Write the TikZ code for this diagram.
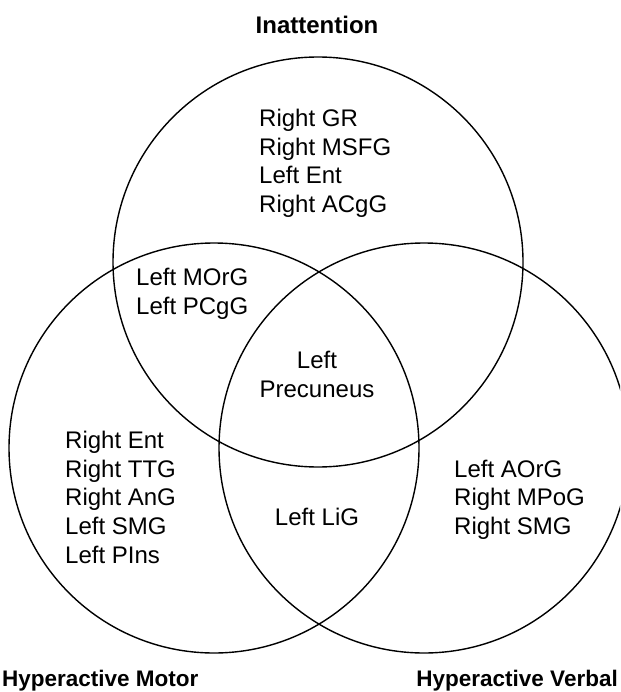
\documentclass[tikz,border=0pt]{standalone}
\usepackage{fontspec}
\setmainfont{Liberation Sans}
\begin{document}
\begin{tikzpicture}[x=1pt,y=-1pt,
  setc/.style={draw=black,line width=1.4pt,circle,minimum size=410pt,inner sep=0pt},
  lbl/.style={inner sep=0pt,font=\fontsize{24}{28}\selectfont},
  ttl/.style={inner sep=0pt,font=\fontsize{24}{28}\selectfont\bfseries},
  ttlb/.style={inner sep=0pt,font=\fontsize{22.5}{27}\selectfont\bfseries}]
\useasboundingbox (0,0) rectangle (620,692);
\clip (0,0) rectangle (620,692);
\fill[white] (0,0) rectangle (620,692);
\node[setc] (cI) at (318,262) {};
\node[setc] (cM) at (214,448) {};
\node[setc] (cV) at (424,448) {};
% titles
\node[ttl,anchor=base] (tI) at (317,34) {Inattention};
\node[ttlb,anchor=base west] (tM) at (2,686) {Hyperactive Motor};
\node[ttlb,anchor=base east] (tV) at (618,686) {Hyperactive Verbal};
% Inattention only
\node[lbl,anchor=base west] (i1) at (259,127) {Right GR};
\node[lbl,anchor=base west] (i2) at (259,155.5) {Right MSFG};
\node[lbl,anchor=base west] (i3) at (259,184) {Left Ent};
\node[lbl,anchor=base west] (i4) at (259,212.5) {Right ACgG};
% Inattention & Motor
\node[lbl,anchor=base west] (im1) at (136,285) {Left MOrG};
\node[lbl,anchor=base west] (im2) at (136,314) {Left PCgG};
% all three
\node[lbl,anchor=base] (a1) at (317,368) {Left};
\node[lbl,anchor=base] (a2) at (317,397) {Precuneus};
% Motor only
\node[lbl,anchor=base west] (m1) at (65,448) {Right Ent};
\node[lbl,anchor=base west] (m2) at (65,477) {Right TTG};
\node[lbl,anchor=base west] (m3) at (65,505.5) {Right AnG};
\node[lbl,anchor=base west] (m4) at (65,534) {Left SMG};
\node[lbl,anchor=base west] (m5) at (65,563) {Left PIns};
% Motor & Verbal
\node[lbl,anchor=base] (mv1) at (317,525) {Left LiG};
% Verbal only
\node[lbl,anchor=base west] (v1) at (454,477) {Left AOrG};
\node[lbl,anchor=base west] (v2) at (454,505.5) {Right MPoG};
\node[lbl,anchor=base west] (v3) at (454,534) {Right SMG};
\end{tikzpicture}
\end{document}
